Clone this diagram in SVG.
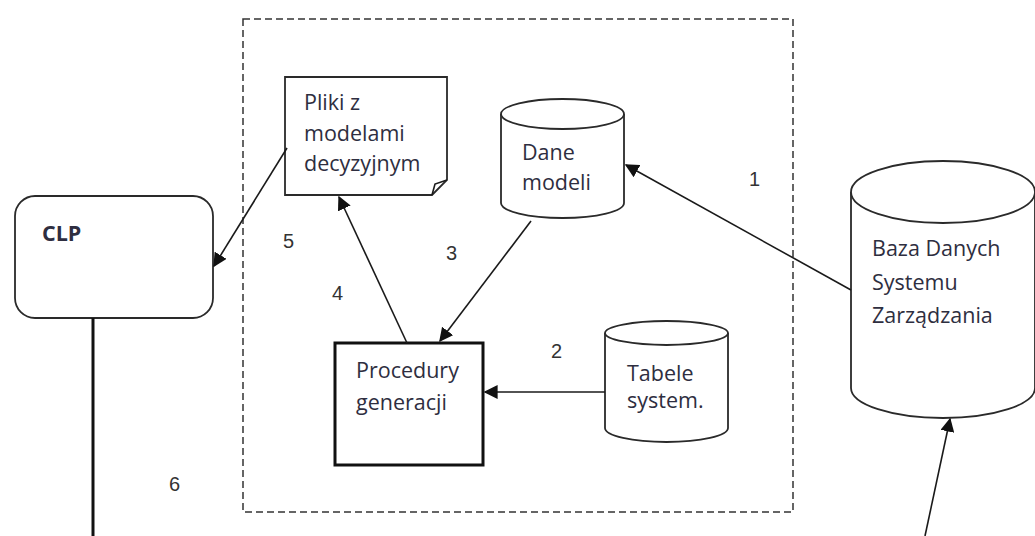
<svg xmlns="http://www.w3.org/2000/svg" width="1035" height="536" viewBox="0 0 1035 536">
<style>
.ln{fill:none;stroke:#1a1a1a;stroke-width:1.6}
.shape{fill:#fff;stroke:#2a2a2a;stroke-width:1.8}
.t{font-family:"Open Sans","Liberation Sans",sans-serif;font-size:21.5px;fill:#2e2e40}
.n{font-family:"Liberation Sans",sans-serif;font-size:20px;fill:#333}
</style>
<defs>
<marker id="ahb" viewBox="0 0 10 10" refX="9" refY="5" markerWidth="14" markerHeight="14" markerUnits="userSpaceOnUse" orient="auto">
<path d="M0,0 L10,5 L0,10 z" fill="#111"/>
</marker>
</defs>
<rect width="1035" height="536" fill="#fff"/>
<rect x="243" y="19" width="550" height="493" fill="none" stroke="#333" stroke-width="1.5" stroke-dasharray="7,4"/>

<g id="clp">
<rect class="shape" x="15" y="196" width="198" height="122" rx="20"/>
<text class="t" x="42" y="241" font-weight="bold" font-size="22">CLP</text>
</g>

<g id="pliki">
<path class="shape" d="M285,77 H447 V180 L432,195 H285 Z"/>
<path class="ln" d="M432,195 L435,184 L447,180" stroke-width="1.2"/>
<text class="t"><tspan x="304" y="110">Pliki z</tspan><tspan x="304" y="141">modelami</tspan><tspan x="304" y="171">decyzyjnym</tspan></text>
</g>

<g id="dane">
<path class="shape" d="M501,114 V203 A61.5,15 0 0 0 624,203 V114"/>
<ellipse class="shape" cx="562.5" cy="114" rx="61.5" ry="15"/>
<text class="t"><tspan x="522" y="160">Dane</tspan><tspan x="522" y="190">modeli</tspan></text>
</g>

<g id="tabele">
<path class="shape" d="M605,333 V428 A61.5,14 0 0 0 728,428 V333"/>
<ellipse class="shape" cx="666.5" cy="333" rx="61.5" ry="12"/>
<text class="t"><tspan x="627" y="381">Tabele</tspan><tspan x="627" y="408">system.</tspan></text>
</g>

<g id="procedury">
<rect x="335" y="343" width="148" height="122" fill="#fff" stroke="#111" stroke-width="3"/>
<text class="t"><tspan x="356" y="378">Procedury</tspan><tspan x="356" y="410">generacji</tspan></text>
</g>

<g id="baza">
<path class="shape" d="M851,192 V388 A92,30 0 0 0 1035,388 V192"/>
<ellipse class="shape" cx="943" cy="192" rx="92" ry="31"/>
<text class="t"><tspan x="872" y="256">Baza Danych</tspan><tspan x="872" y="290">Systemu</tspan><tspan x="872" y="323">Zarządzania</tspan></text>
</g>

<g id="connectors">
<line class="ln" x1="851" y1="290" x2="626" y2="165" marker-end="url(#ahb)"/>
<line class="ln" x1="605" y1="392" x2="485" y2="392" marker-end="url(#ahb)"/>
<line class="ln" x1="531" y1="221" x2="440" y2="341" marker-end="url(#ahb)"/>
<line class="ln" x1="407" y1="343" x2="339" y2="197" marker-end="url(#ahb)"/>
<line class="ln" x1="287" y1="148" x2="214" y2="266" marker-end="url(#ahb)"/>
<line x1="93" y1="318" x2="93" y2="536" stroke="#111" stroke-width="3"/>
<line class="ln" x1="925" y1="536" x2="950" y2="419" marker-end="url(#ahb)"/>
<text class="n" x="749" y="186">1</text>
<text class="n" x="551" y="358">2</text>
<text class="n" x="446" y="260">3</text>
<text class="n" x="332" y="300">4</text>
<text class="n" x="283" y="248">5</text>
<text class="n" x="169" y="491">6</text>
</g>
</svg>
